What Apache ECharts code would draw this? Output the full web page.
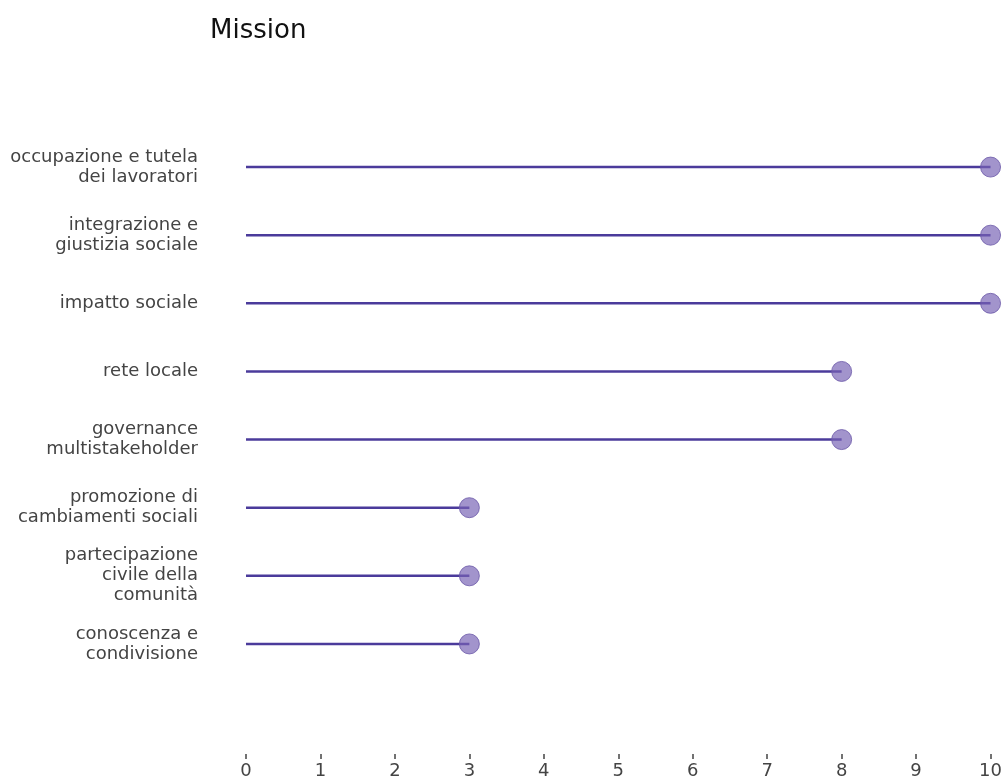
<!DOCTYPE html>
<html>
<head>
<meta charset="utf-8">
<script src="https://cdn.jsdelivr.net/npm/echarts@6/dist/echarts.min.js"></script>
<style>html,body{margin:0;padding:0;background:#fff}#c{width:1005px;height:780px}</style>
</head>
<body>
<div id="c"></div>
<script>
const categories = [
  'occupazione e tutela\ndei lavoratori',
  'integrazione e\ngiustizia sociale',
  'impatto sociale',
  'rete locale',
  'governance\nmultistakeholder',
  'promozione di\ncambiamenti sociali',
  'partecipazione\ncivile della\ncomunità',
  'conoscenza e\ncondivisione'
];
const values = [10, 10, 10, 8, 8, 3, 3, 3];
const xTicks = [0, 1, 2, 3, 4, 5, 6, 7, 8, 9, 10];
const titleText = 'Mission';

const chart = echarts.init(document.getElementById('c'), null, {renderer: 'canvas'});
chart.setOption({
  backgroundColor: '#fff',
  animation: false,
  title: {
    text: titleText, left: 205, top: 13,
    textStyle: {fontFamily: 'DejaVu Sans', fontSize: 26, fontWeight: 'normal', color: '#111'}
  },
  grid: {left: 246, right: 14, top: 133, bottom: 101, containLabel: false},
  xAxis: {
    type: 'value', min: xTicks[0], max: xTicks[xTicks.length - 1], interval: 1,
    offset: 76,
    axisLine: {show: false},
    axisTick: {show: true, length: 5, lineStyle: {color: '#444', width: 1.5}},
    splitLine: {show: false},
    axisLabel: {fontFamily: 'DejaVu Sans', fontSize: 18, color: '#444', margin: 8}
  },
  yAxis: {
    type: 'category', data: categories, inverse: true,
    axisLine: {show: false}, axisTick: {show: false},
    axisLabel: {fontFamily: 'DejaVu Sans', fontSize: 18, color: '#444', margin: 48, lineHeight: 20, align: 'right'}
  },
  series: [
    {
      type: 'bar', data: values, barWidth: 2.5,
      itemStyle: {color: '#4b3b9b'}, silent: true, z: 2
    },
    {
      type: 'scatter', data: values, symbol: 'circle', symbolSize: 20,
      itemStyle: {color: 'rgba(118,98,180,0.85)', borderColor: '#6a58a8', borderWidth: 1}, z: 3
    }
  ]
});
</script>
</body>
</html>
